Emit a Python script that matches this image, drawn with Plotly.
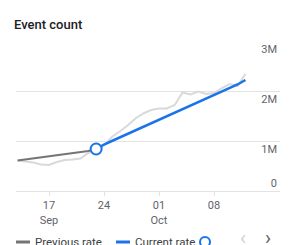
import plotly.graph_objects as go
import pandas as pd

# ---- data ----
all_dates = pd.date_range("2023-09-13", "2023-10-12", freq="D")
prev_dates = pd.date_range("2023-09-13", "2023-09-23", freq="D")
cur_dates = pd.date_range("2023-09-23", "2023-10-12", freq="D")

actual_values = [0.61, 0.59, 0.57, 0.53, 0.52, 0.58, 0.62, 0.63, 0.65, 0.76, 0.82,
                 0.91, 1.08, 1.19, 1.31, 1.45, 1.55, 1.62, 1.65, 1.65, 1.72,
                 1.97, 1.93, 1.99, 1.94, 1.96, 2.06, 2.14, 2.10, 2.34]
previous_rate = [0.61, 0.63, 0.65, 0.67, 0.69, 0.71, 0.74, 0.76, 0.78, 0.80, 0.84]
current_rate = [0.84, 0.93, 1.00, 1.07, 1.14, 1.21, 1.28, 1.35, 1.42, 1.49, 1.56,
                1.63, 1.70, 1.77, 1.84, 1.91, 1.98, 2.05, 2.13, 2.22]
change_date = ["2023-09-23"]
change_value = [0.84]

x_tick_vals = ["2023-09-17", "2023-09-24", "2023-10-01", "2023-10-08"]
x_tick_text = ["17<br>Sep", "24", "01<br>Oct", "08"]
y_tick_vals = [1e6, 2e6, 3e6]
y_tick_text = ["1M", "2M", "3M"]

M = 1e6
GRID = "#e3e3e3"
LABEL = "#5f6368"
FONT = "Roboto"

fig = go.Figure()
fig.add_trace(go.Scatter(x=all_dates, y=[v * M for v in actual_values], mode="lines",
                         line=dict(color="#d9d9d9", width=2), hoverinfo="skip", showlegend=False))
fig.add_trace(go.Scatter(x=prev_dates, y=[v * M for v in previous_rate], mode="lines",
                         line=dict(color="#757575", width=2), showlegend=False))
fig.add_trace(go.Scatter(x=cur_dates, y=[v * M for v in current_rate], mode="lines",
                         line=dict(color="#1a73e8", width=2.5), showlegend=False))
fig.add_trace(go.Scatter(x=change_date, y=[v * M for v in change_value], mode="markers",
                         marker=dict(size=11, color="white", line=dict(color="#1a73e8", width=2)),
                         showlegend=False))
# dummy trace for secondary y axis (0 label)
fig.add_trace(go.Scatter(x=[all_dates[0]], y=[0], yaxis="y2", mode="markers",
                         marker=dict(opacity=0), hoverinfo="skip", showlegend=False))

PLOT_L, PLOT_R, PLOT_T, PLOT_B = 16, 280, 41, 191
W, H = 294, 245


def px(xp):
    return (xp - PLOT_L) / (PLOT_R - PLOT_L)


def py(yp):
    return (PLOT_B - yp) / (PLOT_B - PLOT_T)


fig.update_layout(
    width=W, height=H,
    margin=dict(l=PLOT_L, r=W - PLOT_R, t=PLOT_T, b=H - PLOT_B, pad=0),
    paper_bgcolor="white", plot_bgcolor="white",
    font=dict(family=FONT, size=11, color=LABEL),
    xaxis=dict(
        type="date",
        range=["2023-09-12 19:12", "2023-10-16 09:36"],
        tickvals=x_tick_vals, ticktext=x_tick_text,
        showgrid=False, zeroline=False,
        showline=True, linecolor=GRID, linewidth=1,
        ticks="outside", ticklen=4, tickcolor=GRID,
        tickfont=dict(size=11, color=LABEL, family=FONT),
    ),
    yaxis=dict(
        range=[0, 3e6], side="right",
        tickvals=y_tick_vals, ticktext=y_tick_text,
        ticklabelposition="inside bottom",
        showgrid=True, gridcolor=GRID, gridwidth=1,
        zeroline=False, showline=False, ticks="",
        tickfont=dict(size=11, color=LABEL, family=FONT),
    ),
    yaxis2=dict(
        range=[0, 3e6], side="right", overlaying="y",
        tickvals=[0], ticktext=["0"],
        ticklabelposition="inside top",
        showgrid=False, zeroline=False, showline=False, ticks="",
        tickfont=dict(size=11, color=LABEL, family=FONT),
    ),
    showlegend=False,
)

annotations = [
    dict(text="Event count", x=px(12), y=py(25), xref="paper", yref="paper",
         xanchor="left", yanchor="middle", showarrow=False,
         font=dict(size=13, color="#202124", family=FONT, weight=500)),
    dict(text="Previous rate", x=px(33), y=py(242), xref="paper", yref="paper",
         xanchor="left", yanchor="middle", showarrow=False,
         font=dict(size=11.5, color="#3c4043", family=FONT)),
    dict(text="Current rate", x=px(133), y=py(242), xref="paper", yref="paper",
         xanchor="left", yanchor="middle", showarrow=False,
         font=dict(size=11.5, color="#3c4043", family=FONT)),
    dict(text="‹", x=px(243), y=py(238), xref="paper", yref="paper",
         xanchor="center", yanchor="middle", showarrow=False,
         font=dict(size=20, color="#d0d0d0", family=FONT)),
    dict(text="›", x=px(268), y=py(238), xref="paper", yref="paper",
         xanchor="center", yanchor="middle", showarrow=False,
         font=dict(size=20, color="#5f6368", family=FONT)),
]
fig.update_layout(annotations=annotations)

shapes = [
    dict(type="line", xref="paper", yref="paper", x0=px(16), x1=px(30), y0=py(242), y1=py(242),
         line=dict(color="#757575", width=3)),
    dict(type="line", xref="paper", yref="paper", x0=px(116), x1=px(130), y0=py(242), y1=py(242),
         line=dict(color="#1a73e8", width=3)),
    dict(type="circle", xref="paper", yref="paper", xsizemode="pixel", ysizemode="pixel",
         xanchor=px(205), yanchor=py(242), x0=-5, x1=5, y0=-5, y1=5,
         line=dict(color="#1a73e8", width=2), fillcolor="white"),
]
fig.update_layout(shapes=shapes)

fig.write_html("out.html")
